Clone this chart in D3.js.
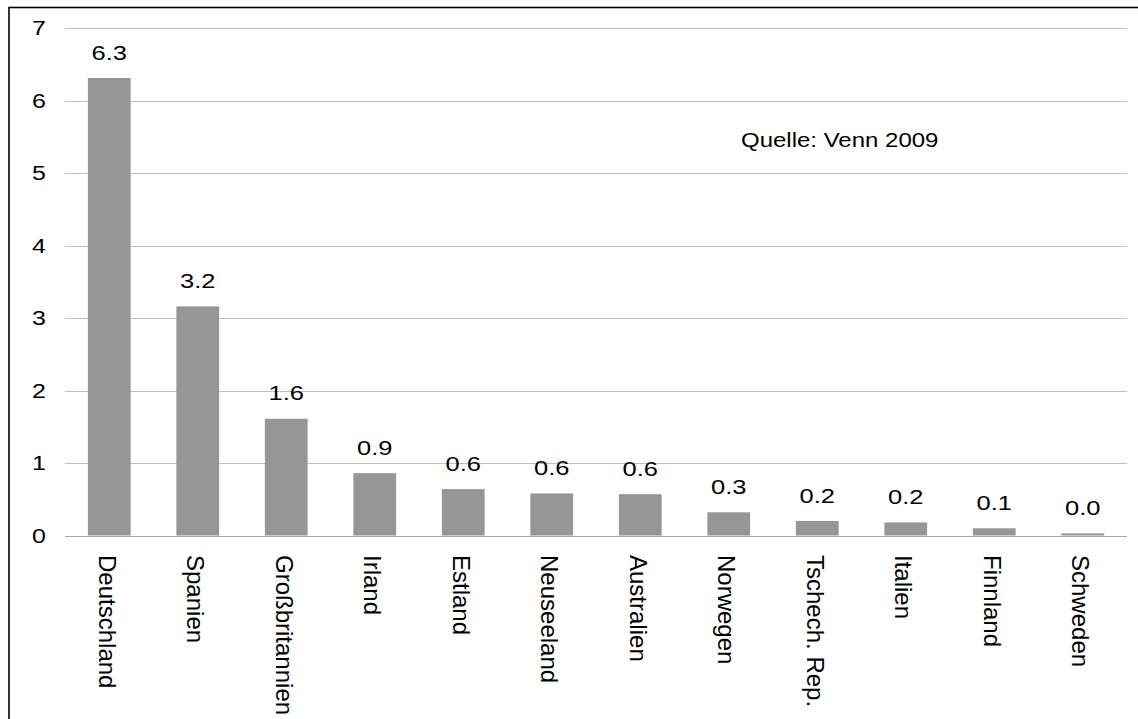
<!DOCTYPE html>
<html>
<head>
<meta charset="utf-8">
<script src="https://cdn.jsdelivr.net/npm/d3@7"></script>
<style>
  html, body { margin: 0; padding: 0; background: #fff; }
  svg { display: block; font-family: "Liberation Sans", Arial, sans-serif; }
</style>
</head>
<body>
<svg id="chart" width="1138" height="719"></svg>
<script>
// Länder und Werte
const countries = ["Deutschland", "Spanien", "Großbritannien", "Irland", "Estland", "Neuseeland",
                   "Australien", "Norwegen", "Tschech. Rep.", "Italien", "Finnland", "Schweden"];
const values = [6.31, 3.16, 1.61, 0.86, 0.64, 0.58, 0.57, 0.32, 0.20, 0.18, 0.10, 0.03];
const yTicks = [0, 1, 2, 3, 4, 5, 6, 7];
const sourceNote = "Quelle: Venn 2009";

const svg = d3.select("#chart");
const W = 1138, H = 719;
const plot = { left: 65, right: 1127, top: 28, bottom: 535.5 };
const textScaleY = 0.82;   // horizontal labels are slightly flattened
const fmt = d3.format(".1f");

const x = d3.scaleBand()
  .domain(countries)
  .range([plot.left, plot.right])
  .paddingInner(0.517)
  .paddingOuter(0.2585);

const y = d3.scaleLinear()
  .domain([0, 7])
  .range([plot.bottom, plot.top]);

// outer frame
svg.append("rect")
  .attr("x", 9).attr("y", 7.5)
  .attr("width", W + 20).attr("height", H + 20)
  .attr("fill", "none")
  .attr("stroke", "#000")
  .attr("stroke-width", 1.6);

// gridlines
svg.append("g")
  .selectAll("line")
  .data(yTicks)
  .join("line")
  .attr("x1", plot.left).attr("x2", plot.right)
  .attr("y1", d => Math.round(y(d)) + 0.5)
  .attr("y2", d => Math.round(y(d)) + 0.5)
  .attr("stroke", d => d === 0 ? "#a6a6a6" : "#c0c0c0")
  .attr("stroke-width", 1.2);

// y tick labels
svg.append("g")
  .selectAll("text")
  .data(yTicks)
  .join("text")
  .attr("transform", d => `translate(46,${y(d) + 7.2}) scale(1,${textScaleY})`)
  .attr("text-anchor", "end")
  .attr("font-size", 25)
  .attr("fill", "#000")
  .text(d => d);

// bars
svg.append("g")
  .selectAll("rect")
  .data(countries)
  .join("rect")
  .attr("x", d => x(d))
  .attr("width", x.bandwidth())
  .attr("y", (d, i) => y(values[i]))
  .attr("height", (d, i) => y(0) - y(values[i]))
  .attr("fill", "#969696");

// value labels
svg.append("g")
  .selectAll("text")
  .data(countries)
  .join("text")
  .attr("transform", (d, i) =>
    `translate(${x(d) + x.bandwidth() / 2},${y(values[i]) - 18.5}) scale(1,${textScaleY})`)
  .attr("text-anchor", "middle")
  .attr("font-size", 25.5)
  .attr("fill", "#000")
  .text((d, i) => fmt(values[i]));

// category labels, rotated to read top to bottom
svg.append("g")
  .selectAll("text")
  .data(countries)
  .join("text")
  .attr("transform", d => `translate(${x(d) + x.bandwidth() / 2 - 10.5},555) rotate(90)`)
  .attr("text-anchor", "start")
  .attr("font-size", 24)
  .attr("fill", "#000")
  .text(d => d);

// source note
svg.append("text")
  .attr("transform", `translate(741,146.5) scale(1,0.85)`)
  .attr("font-size", 24)
  .attr("fill", "#000")
  .text(sourceNote);
</script>
</body>
</html>
